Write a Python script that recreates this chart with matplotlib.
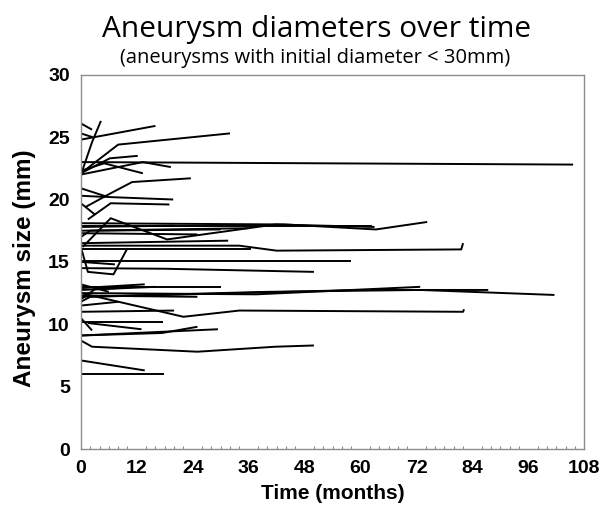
import matplotlib
matplotlib.use("Agg")
import matplotlib.pyplot as plt
from matplotlib.ticker import MultipleLocator

# Follow-up times (months) and diameters (mm) per aneurysm
patient_months = [
    [0, 2.4], [0, 2.5], [0.3, 2.4, 4.3], [0, 16], [0, 8, 32],
    [0, 6.2, 12.2], [0, 5, 13.3], [0, 13.3, 19.3], [0, 105.6],
    [1, 6.4, 11, 23.6], [0, 5.8, 19.8], [0, 5.5], [0, 3], [1.5, 6.4, 19],
    [0.4, 6.4, 18.5, 41.7, 63], [0, 43.8, 63.3, 74.3], [0, 62.5],
    [0, 36], [0, 20], [0, 25], [0, 2, 30],
    [0, 31.6], [0, 10, 34, 42, 81.6, 82], [0, 36.5], [0, 1.5, 7, 10],
    [0, 7.3], [0, 58], [0, 18, 50],
    [0, 30], [0, 13.7], [0, 16], [0, 37.6, 72.8], [0, 2, 59.7, 87.4],
    [0, 40, 72.8, 101.6], [0, 22, 34, 82, 82.2], [0, 25], [0, 20],
    [0, 3, 8], [0, 6],
    [0, 17.6], [0, 2.4], [1.5, 13], [0, 17.4, 25], [0, 29.4],
    [0, 2.4, 25, 41.7, 50], [0, 13.7], [0, 17.8], [0, 8],
]
patient_sizes = [
    [26.1, 25.6], [25.3, 25.0], [22.3, 24.6, 26.3], [24.8, 25.9], [22.1, 24.4, 25.3],
    [22.1, 23.3, 23.5], [22.3, 22.9, 22.1], [22.0, 23.0, 22.6], [23.0, 22.8],
    [19.4, 20.5, 21.4, 21.7], [20.9, 20.2, 20.0], [20.3, 20.2], [19.7, 18.8], [18.4, 19.7, 19.6],
    [16.2, 18.5, 16.8, 18.0, 17.8], [18.1, 18.0, 17.6, 18.2], [17.9, 17.9],
    [17.5, 17.7], [17.8, 17.9], [17.3, 17.2], [17.0, 17.5, 17.6],
    [16.5, 16.7], [16.3, 16.3, 16.3, 15.9, 16.0, 16.5], [16.0, 16.0], [16.2, 14.2, 14.0, 16.1],
    [15.0, 14.8], [15.1, 15.1], [14.5, 14.45, 14.2],
    [13.0, 13.0], [12.9, 13.2], [12.75, 13.0], [12.5, 12.4, 13.0], [11.8, 12.2, 12.75, 12.75],
    [12.2, 12.6, 12.75, 12.35], [12.5, 10.6, 11.1, 11.0, 11.2], [12.3, 12.2], [11.0, 11.1],
    [12.0, 12.8, 12.9], [13.2, 12.6],
    [10.2, 10.2], [10.5, 9.5], [10.1, 9.6], [9.1, 9.3, 9.8], [9.1, 9.6],
    [8.7, 8.2, 7.8, 8.2, 8.3], [7.1, 6.3], [6.0, 6.0], [11.5, 11.8],
]

x_ticks = [0, 12, 24, 36, 48, 60, 72, 84, 96, 108]
y_ticks = [0, 5, 10, 15, 20, 25, 30]

fig = plt.figure(figsize=(6.08, 5.12), dpi=100)
ax = fig.add_axes([0.133, 0.123, 0.828, 0.731])

for m, s in zip(patient_months, patient_sizes):
    ax.plot(m, s, color="black", linewidth=1.4, solid_capstyle="butt")

ax.set_xlim(0, 108)
ax.set_ylim(0, 30)
ax.set_xticks(x_ticks)
ax.set_yticks(y_ticks)
ax.xaxis.set_minor_locator(MultipleLocator(2))
for sp in ax.spines.values():
    sp.set_color("#8c8c8c")
    sp.set_linewidth(1.0)
ax.tick_params(axis="both", which="major", length=0, pad=8)
ax.tick_params(axis="x", which="minor", direction="in", length=2.5, color="#8c8c8c", width=0.8)
for lab in ax.get_xticklabels() + ax.get_yticklabels():
    lab.set_fontfamily("Liberation Sans")
    lab.set_fontweight("bold")
    lab.set_fontsize(14)

ax.set_xlabel("Time (months)", fontfamily="Liberation Sans", fontweight="bold", fontsize=15, labelpad=5)
fig.text(25 / 608, 1 - 268 / 512, "Aneurysm size (mm)", rotation=90, ha="center", va="center",
         fontfamily="Liberation Sans", fontweight="bold", fontsize=17.5)

fig.text(0.52, 0.943, "Aneurysm diameters over time", ha="center", va="center",
         fontfamily="Open Sans", fontsize=21.5)
fig.text(0.518, 0.886, "(aneurysms with initial diameter < 30mm)", ha="center", va="center",
         fontfamily="Open Sans", fontsize=14.5)

fig.savefig("out.png", dpi=100)
